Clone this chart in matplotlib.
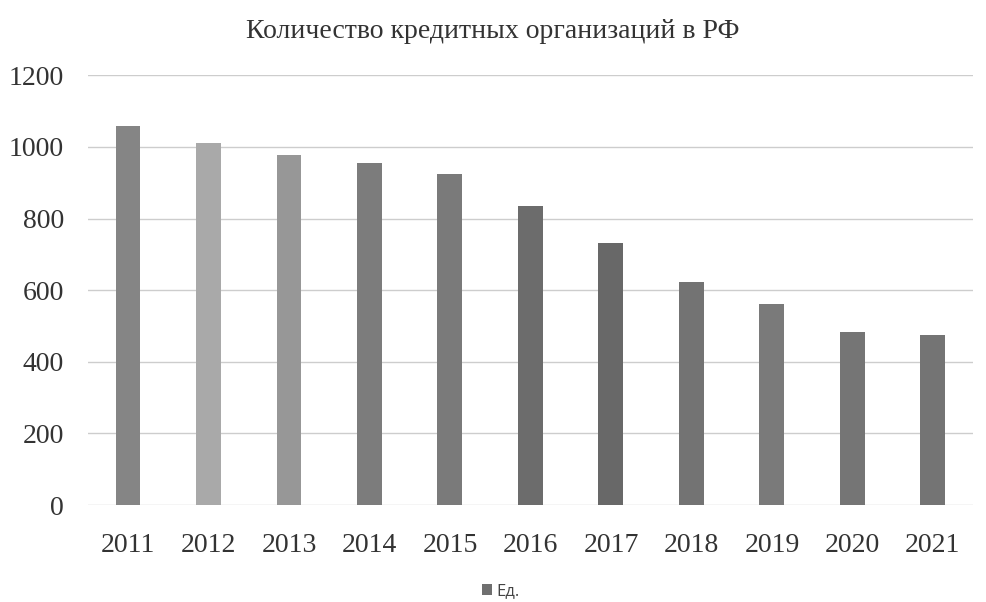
import matplotlib
matplotlib.use("Agg")
import matplotlib.pyplot as plt
from matplotlib.patches import Patch

years = ["2011", "2012", "2013", "2014", "2015", "2016", "2017", "2018", "2019", "2020", "2021"]
counts = [1058, 1012, 978, 956, 923, 834, 733, 623, 561, 484, 474]
series_name = "Ед."
title = "Количество кредитных организаций в РФ"

bar_colors = ["#858585", "#a9a9a9", "#979797", "#7c7c7c", "#7a7a7a", "#6c6c6c",
              "#686868", "#737373", "#7a7a7a", "#757575", "#747474"]

fig = plt.figure(figsize=(9.86, 6.02), dpi=100)
ax = fig.add_axes([0.089, 0.161, 0.898, 0.714])

x = list(range(len(years)))
ax.bar(x, counts, width=0.31, color=bar_colors, zorder=3)

ax.set_ylim(0, 1200)
ax.set_xlim(-0.5, len(years) - 0.5)
ax.set_yticks(range(0, 1201, 200))
ax.set_xticks(x)
ax.set_xticklabels(years)
ax.grid(axis="y", color="#cdcdcd", linewidth=1.0, zorder=0)
for s in ax.spines.values():
    s.set_visible(False)
ax.tick_params(length=0)
ax.tick_params(axis="y", pad=17)
ax.tick_params(axis="x", pad=20)
for lab in ax.get_xticklabels() + ax.get_yticklabels():
    lab.set_family("Liberation Serif")
    lab.set_fontsize(20)
    lab.set_color("#333333")

fig.text(0.5, 0.948, title, ha="center", va="center",
         family="Liberation Serif", fontsize=20, color="#333333")

handles = [Patch(facecolor="#6f6f6f", label=series_name)]
leg = fig.legend(handles=handles, loc="center", bbox_to_anchor=(0.508, 0.018),
                 frameon=False, prop={"family": "Open Sans", "size": 12},
                 handlelength=0.6, handleheight=0.6, handletextpad=0.3)
for t in leg.get_texts():
    t.set_color("#444444")

fig.savefig("out.png", dpi=100, facecolor="white")
